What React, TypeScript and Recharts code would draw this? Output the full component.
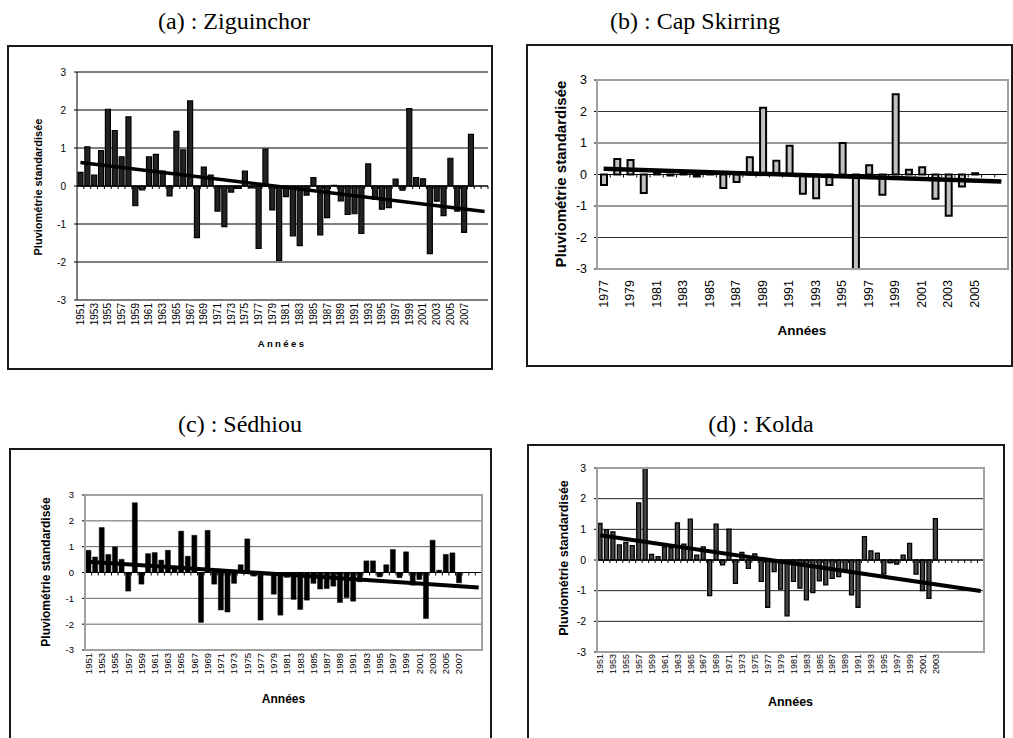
import React from "react";
import {
  ComposedChart,
  Bar,
  Line,
  XAxis,
  YAxis,
  CartesianGrid,
  ReferenceLine,
} from "recharts";

const SANS = "'Liberation Sans', Arial, sans-serif";
const SERIF = "'Liberation Serif', 'Times New Roman', serif";

const range = (a: number, b: number) =>
  Array.from({ length: b - a + 1 }, (_, i) => a + i);

// (a) Ziguinchor : 1951-2008, trend drawn to 2010
const yearsA = range(1951, 2010);
const valuesA = [
  0.36, 1.03, 0.29, 0.93, 2.02, 1.46, 0.77, 1.82, -0.52, -0.1,
  0.77, 0.83, 0.39, -0.26, 1.44, 0.95, 2.24, -1.36, 0.5, 0.29,
  -0.66, -1.07, -0.16, -0.06, 0.39, -0.05, -1.64, 0.97, -0.63, -1.96,
  -0.28, -1.31, -1.57, -0.24, 0.22, -1.29, -0.83, 0.02, -0.39, -0.75,
  -0.73, -1.25, 0.58, -0.35, -0.61, -0.57, 0.18, -0.11, 2.04, 0.22,
  0.19, -1.78, -0.4, -0.78, 0.73, -0.66, -1.22, 1.36,
];
const trendA: [number, number] = [0.62, -0.67];

// (b) Cap Skirring : 1977-2005, trend drawn to 2007
const yearsB = range(1977, 2007);
const valuesB = [
  -0.33, 0.49, 0.46, -0.59, 0.05, -0.03, 0.03, -0.06, 0.03, -0.43,
  -0.24, 0.55, 2.12, 0.44, 0.91, -0.61, -0.75, -0.33, 1.0, -3.1,
  0.29, -0.64, 2.55, 0.15, 0.23, -0.77, -1.31, -0.38, 0.04,
];
const trendB: [number, number] = [0.18, -0.22];

// (c) Sédhiou : 1951-2007
const yearsC = range(1951, 2010);
const valuesC = [
  0.86, 0.6, 1.74, 0.7, 0.99, 0.51, -0.72, 2.7, -0.45, 0.73,
  0.77, 0.48, 0.86, 0.25, 1.6, 0.63, 1.44, -1.93, 1.63, -0.45,
  -1.45, -1.53, -0.42, 0.3, 1.3, -0.14, -1.84, -0.1, -0.84, -1.65,
  -0.19, -1.04, -1.43, -1.07, -0.42, -0.64, -0.62, -0.53, -1.16, -0.97,
  -1.11, -0.36, 0.45, 0.45, -0.17, 0.3, 0.89, -0.2, 0.8, -0.49,
  -0.27, -1.78, 1.25, 0.09, 0.7, 0.76, -0.4,
];
const trendC: [number, number] = [0.42, -0.58];

// (d) Kolda : 1951-2003
const yearsD = range(1951, 2010);
const valuesD = [
  1.19, 0.98, 0.92, 0.49, 0.57, 0.47, 1.86, 3.15, 0.18, 0.11,
  0.43, 0.4, 1.21, 0.52, 1.33, 0.16, 0.43, -1.16, 1.17, -0.16,
  1.01, -0.76, 0.25, -0.27, 0.2, -0.7, -1.54, -0.38, -0.95, -1.82,
  -0.7, -0.92, -1.3, -1.06, -0.68, -0.81, -0.6, -0.54, -0.33, -1.14,
  -1.54, 0.76, 0.3, 0.22, -0.46, -0.09, -0.13, 0.16, 0.54, -0.46,
  -1.0, -1.25, 1.35,
];
const trendD: [number, number] = [0.81, -1.01];

const yTicks = [-3, -2, -1, 0, 1, 2, 3];

type Box = { l: number; t: number; r: number; b: number };

type PanelCfg = {
  title: string;
  titleX: number;
  titleY: number;
  years: number[];
  values: number[];
  trend: [number, number];
  lastLabel: number;
  frame: Box;
  plot: Box;
  plotBorder: boolean;
  gridColor: string;
  axisColor: string;
  yTickFont: number;
  yTickMargin: number;
  xTickFont: number;
  labelGap: number;
  barSize: number;
  barFill: string;
  barStroke: number;
  lineWidth: number;
  yLabel: { x: number; y: number; size: number };
  xTitle: { x: number; y: number; size: number; spacing: number };
};

const panels: PanelCfg[] = [
  {
    title: "(a) : Ziguinchor",
    titleX: 234,
    titleY: 29,
    years: yearsA,
    values: valuesA,
    trend: trendA,
    lastLabel: 2007,
    frame: { l: 8, t: 46, r: 492, b: 369 },
    plot: { l: 77, t: 72, r: 488, b: 300 },
    plotBorder: false,
    gridColor: "#000",
    axisColor: "#000",
    yTickFont: 10,
    yTickMargin: 8,
    xTickFont: 10,
    labelGap: 3,
    barSize: 5,
    barFill: "#222",
    barStroke: 1.2,
    lineWidth: 3.5,
    yLabel: { x: 38, y: 187, size: 11 },
    xTitle: { x: 282, y: 343, size: 9.5, spacing: 2.4 },
  },
  {
    title: "(b) : Cap Skirring",
    titleX: 695,
    titleY: 29,
    years: yearsB,
    values: valuesB,
    trend: trendB,
    lastLabel: 2005,
    frame: { l: 527, t: 45, r: 1012, b: 366 },
    plot: { l: 597, t: 80, r: 1008, b: 269 },
    plotBorder: true,
    gridColor: "#333",
    axisColor: "#666",
    yTickFont: 12.5,
    yTickMargin: 7,
    xTickFont: 12.5,
    labelGap: 11,
    barSize: 6,
    barFill: "#c0c0c0",
    barStroke: 2,
    lineWidth: 4.5,
    yLabel: { x: 560, y: 174, size: 15 },
    xTitle: { x: 802, y: 330, size: 13.5, spacing: 0 },
  },
  {
    title: "(c) : Sédhiou",
    titleX: 240,
    titleY: 432,
    years: yearsC,
    values: valuesC,
    trend: trendC,
    lastLabel: 2007,
    frame: { l: 10, t: 449, r: 491, b: 760 },
    plot: { l: 85, t: 495, r: 482, b: 650 },
    plotBorder: true,
    gridColor: "#666",
    axisColor: "#666",
    yTickFont: 9.5,
    yTickMargin: 8,
    xTickFont: 9.5,
    labelGap: 3,
    barSize: 5,
    barFill: "#000",
    barStroke: 0.5,
    lineWidth: 4,
    yLabel: { x: 46, y: 572, size: 12 },
    xTitle: { x: 283.5, y: 699, size: 12, spacing: 0 },
  },
  {
    title: "(d) : Kolda",
    titleX: 761,
    titleY: 432,
    years: yearsD,
    values: valuesD,
    trend: trendD,
    lastLabel: 2003,
    frame: { l: 528, t: 445, r: 1004, b: 760 },
    plot: { l: 597, t: 468, r: 984, b: 652 },
    plotBorder: true,
    gridColor: "#222",
    axisColor: "#666",
    yTickFont: 10.5,
    yTickMargin: 8,
    xTickFont: 9,
    labelGap: 2,
    barSize: 4,
    barFill: "#444",
    barStroke: 1.3,
    lineWidth: 4,
    yLabel: { x: 564, y: 558, size: 12.5 },
    xTitle: { x: 790.5, y: 701.5, size: 12.5, spacing: 0 },
  },
];

const makeRows = (years: number[], values: number[], trend: [number, number]) =>
  years.map((year, i) => ({
    year,
    v: i < values.length ? values[i] : null,
    trend: i === 0 ? trend[0] : i === years.length - 1 ? trend[1] : null,
  }));

function Panel({ p }: { p: PanelCfg }) {
  const { frame, plot } = p;
  const xh = 40;
  const yw = 30;
  const width = frame.r - frame.l;
  const height = plot.b - frame.t + xh;
  const margin = {
    top: plot.t - frame.t,
    right: frame.r - plot.r,
    bottom: 0,
    left: plot.l - frame.l - yw,
  };
  const bw = (plot.r - plot.l) / p.years.length;
  const zeroY = (plot.t + plot.b) / 2 - frame.t;
  const labelY = plot.b - frame.t + p.labelGap;
  const first = p.years[0];
  const rows = makeRows(p.years, p.values, p.trend);

  const renderTick = (props: any) => {
    const { x, payload } = props;
    const year = Number(payload.value);
    const show = (year - first) % 2 === 0 && year <= p.lastLabel;
    return (
      <g>
        <line
          x1={x + bw / 2}
          x2={x + bw / 2}
          y1={zeroY}
          y2={zeroY + 3}
          stroke="#000"
          strokeWidth={1}
        />
        {show && (
          <text
            transform={`translate(${x},${labelY}) rotate(-90)`}
            textAnchor="end"
            dominantBaseline="central"
            fontSize={p.xTickFont}
            fontFamily={SANS}
            fill="#000"
          >
            {year}
          </text>
        )}
      </g>
    );
  };

  return (
    <>
      <div
        style={{
          position: "absolute",
          left: frame.l - 1,
          top: frame.t - 1,
          width: frame.r - frame.l + 2,
          height: frame.b - frame.t + 2,
          border: "2px solid #1a1a1a",
          boxSizing: "border-box",
        }}
      />
      <div style={{ position: "absolute", left: frame.l, top: frame.t }}>
        <ComposedChart width={width} height={height} data={rows} margin={margin}>
          <CartesianGrid horizontal vertical={false} stroke={p.gridColor} />
          <XAxis
            dataKey="year"
            interval={0}
            tick={renderTick}
            tickLine={false}
            axisLine={false}
            height={xh}
          />
          <YAxis
            domain={[-3, 3]}
            ticks={yTicks}
            interval={0}
            allowDataOverflow
            width={yw}
            tickSize={3}
            tickMargin={p.yTickMargin}
            tick={{ fontSize: p.yTickFont, fill: "#000", fontFamily: SANS }}
            axisLine={{ stroke: p.axisColor }}
            tickLine={{ stroke: "#000" }}
          />
          <Bar
            dataKey="v"
            barSize={p.barSize}
            fill={p.barFill}
            stroke="#000"
            strokeWidth={p.barStroke}
            isAnimationActive={false}
          />
          <ReferenceLine y={0} stroke="#000" />
          <Line
            dataKey="trend"
            type="linear"
            stroke="#000"
            strokeWidth={p.lineWidth}
            dot={false}
            activeDot={false}
            connectNulls
            isAnimationActive={false}
          />
        </ComposedChart>
      </div>
      {p.plotBorder && (
        <div
          style={{
            position: "absolute",
            left: plot.l - 1,
            top: plot.t - 1,
            width: plot.r - plot.l + 2,
            height: plot.b - plot.t + 2,
            border: "2px solid #a0a0a0",
            boxSizing: "border-box",
            pointerEvents: "none",
          }}
        />
      )}
    </>
  );
}

export default function App() {
  return (
    <div
      style={{
        position: "absolute",
        left: 0,
        top: 0,
        width: 1013,
        height: 738,
        overflow: "hidden",
        background: "#fff",
      }}
    >
      {panels.map((p) => (
        <Panel key={p.title} p={p} />
      ))}
      <svg
        width={1013}
        height={738}
        style={{ position: "absolute", left: 0, top: 0, pointerEvents: "none" }}
      >
        {panels.map((p) => (
          <g key={p.title}>
            <text
              x={p.titleX}
              y={p.titleY}
              textAnchor="middle"
              fontFamily={SERIF}
              fontSize={24}
              fill="#000"
            >
              {p.title}
            </text>
            <text
              transform={`translate(${p.yLabel.x},${p.yLabel.y}) rotate(-90)`}
              textAnchor="middle"
              dominantBaseline="central"
              fontFamily={SANS}
              fontWeight="bold"
              fontSize={p.yLabel.size}
              fill="#000"
            >
              Pluviométrie standardisée
            </text>
            <text
              x={p.xTitle.x}
              y={p.xTitle.y}
              textAnchor="middle"
              dominantBaseline="central"
              fontFamily={SANS}
              fontWeight="bold"
              fontSize={p.xTitle.size}
              letterSpacing={p.xTitle.spacing}
              fill="#000"
            >
              Années
            </text>
          </g>
        ))}
      </svg>
    </div>
  );
}
